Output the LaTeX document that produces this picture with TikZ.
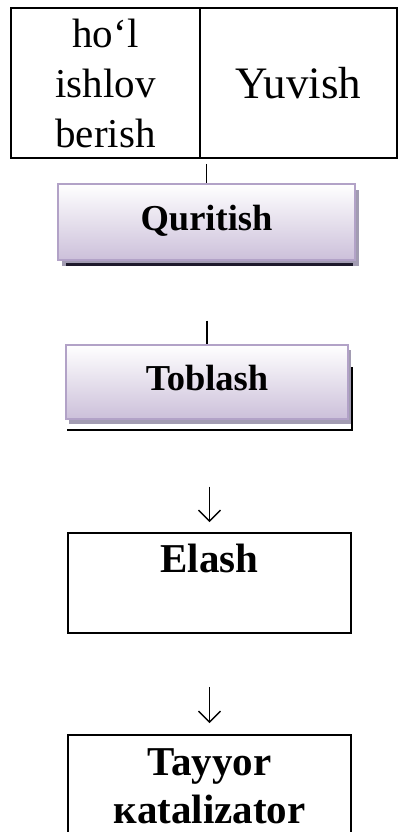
\documentclass[tikz,border=0pt]{standalone}
\usepackage{fontspec}
\setmainfont{Liberation Serif}
\usetikzlibrary{arrows.meta,shadows}
\definecolor{lavline}{RGB}{178,162,199}
\definecolor{lavfill}{RGB}{204,192,218}
\definecolor{shcol}{RGB}{162,156,178}
\definecolor{darkline}{RGB}{30,26,44}
\begin{document}
\begin{tikzpicture}[x=1pt,y=1pt,
  cell/.style={draw, line width=1.8pt, inner sep=0pt, minimum height=150pt, align=center, font=\fontsize{41}{50}\selectfont},
  shbox/.style={draw=lavline, line width=1.6pt, top color=white, bottom color=lavfill, inner sep=0pt, font=\fontsize{36.5}{40}\selectfont\bfseries},
  plainbox/.style={draw, line width=1.8pt, inner sep=0pt, minimum width=283pt, font=\fontsize{41}{48}\selectfont\bfseries},
  link/.style={line width=1.1pt},
  darr/.style={line width=1.3pt, -{Straight Barb[length=11pt,width=22pt,line width=1.3pt]}}
]
\useasboundingbox (0,0) rectangle (398,-832);

\node[cell, minimum width=189pt] (hol) at (105.5,-83) {ho‘l\\ishlov\\berish};
\node[cell, minimum width=197pt, font=\fontsize{45}{50}\selectfont] (yuv) at (298.5,-83) {Yuvish};

\node[shbox, anchor=north, minimum width=297pt, text height=47pt, text depth=29pt,
  drop shadow={shadow xshift=4pt, shadow yshift=-6pt, fill=shcol, opacity=1}] (q) at (206.5,-183) {Quritish};
\draw[darkline, line width=3pt] ([xshift=9pt,yshift=-3.5pt]q.south west) -- ([xshift=-3pt,yshift=-3.5pt]q.south east);

\node[shbox, anchor=north, minimum width=282pt, text height=46pt, text depth=28pt,
  drop shadow={shadow xshift=3pt, shadow yshift=-5pt, fill=shcol, opacity=1}] (tob) at (207,-344) {Toblash};
\draw[line width=2pt] ([xshift=3pt,yshift=-23pt]tob.north east) |- ([xshift=2pt,yshift=-10pt]tob.south west);

\node[plainbox, anchor=north, text height=40pt, text depth=60pt] (el) at (209.5,-532) {Elash};
\node[plainbox, anchor=north, align=center, inner ysep=14pt] (tay) at (209.5,-734) {Tayyor\\кatalizator};

\draw[link, shorten <=5pt] (q.north |- hol.south) -- (q.north);
\draw[link, shorten <=60pt] (tob.north |- q.south) -- (tob.north);
\draw[darr, shorten <=67pt, shorten >=10pt] (el.north |- tob.south) -- (el.north);
\draw[darr, shorten <=53pt, shorten >=11pt] (tay.north |- el.south) -- (tay.north);
\end{tikzpicture}
\end{document}
